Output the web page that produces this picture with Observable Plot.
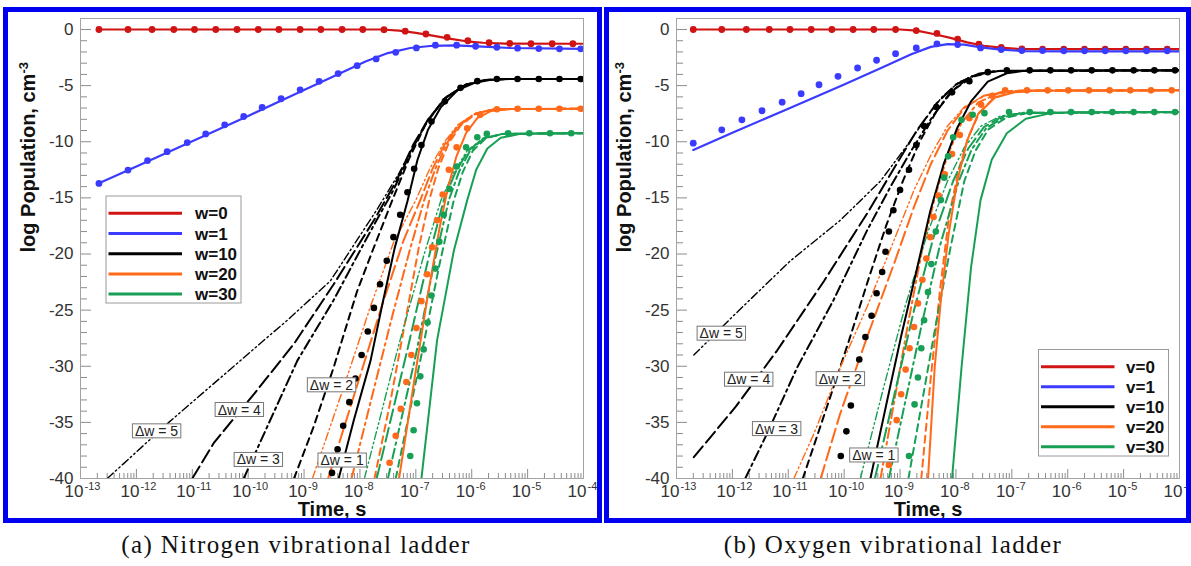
<!DOCTYPE html>
<html><head><meta charset="utf-8">
<script src="https://cdn.jsdelivr.net/npm/d3@7"></script>
<script src="https://cdn.jsdelivr.net/npm/@observablehq/plot@0.6"></script>
<style>
body{margin:0;background:#fff;width:1191px;height:566px;overflow:hidden;position:relative;font-family:"Liberation Sans",Arial,sans-serif}
.panel{position:absolute;border:5px solid #0000f0;background:#fff;overflow:hidden;box-sizing:border-box}
.panel svg{display:block}
.cap{position:absolute;top:532px;font-family:"Liberation Serif","Times New Roman",serif;font-size:25px;line-height:25px;letter-spacing:1.4px;color:#111;white-space:nowrap;transform:translateX(-50%)}
</style></head><body>
<div id="p1" class="panel" style="left:3px;top:7px;width:599px;height:516px"></div>
<div id="p2" class="panel" style="left:604px;top:7px;width:587px;height:516px"></div>
<div class="cap" style="left:296px">(a) Nitrogen vibrational ladder</div>
<div class="cap" style="left:893px">(b) Oxygen vibrational ladder</div>
<script>
// ---------- axis / label data ----------
const decades = [-13,-12,-11,-10,-9,-8,-7,-6,-5,-4];
const decadeExp = ["-13","-12","-11","-10","-9","-8","-7","-6","-5","-4"];
const yMajor = [0,-5,-10,-15,-20,-25,-30,-35,-40];
const yMajorLabels = ["0","-5","-10","-15","-20","-25","-30","-35","-40"];
const levelColors = ["#d01414","#3b3bff","#000000","#ff6a1a","#17a055"];
const n2LegendLabels = ["w=0","w=1","w=10","w=20","w=30"];
const o2LegendLabels = ["v=0","v=1","v=10","v=20","v=30"];
const dwLabels = ["\u0394w = 5","\u0394w = 4","\u0394w = 3","\u0394w = 2","\u0394w = 1"];
const yTitle = "log Population, cm";
const n2DwX = [-11.64,-10.16,-9.82,-8.51,-8.32];
const n2DwY = [-35.8,-33.9,-38.35,-31.7,-38.4];
const o2DwX = [-12.20,-11.71,-11.21,-10.07,-9.47];
const o2DwY = [-27.1,-31.2,-35.6,-31.15,-37.95];

// ---------- Nitrogen (log10 time [s], log population) ----------
const n2_w0_line = [[-12.67,0],[-7.6,0],[-7.3,-0.1],[-7.0,-0.3],[-6.7,-0.55],[-6.4,-0.82],[-6.1,-1.05],[-5.8,-1.18],[-5.4,-1.25],[-4,-1.27]];
const n2_w0_dots = [[-12.67,0],[-12.15,0],[-11.72,0],[-11.33,0],[-10.96,0],[-10.58,0],[-10.20,0],[-9.82,0],[-9.45,0],[-9.07,0],[-8.70,0],[-8.32,0],[-7.95,0],[-7.57,-0.02],[-7.19,-0.15],[-6.82,-0.4],[-6.44,-0.7],[-6.07,-1.0],[-5.69,-1.18],[-5.32,-1.24],[-4.94,-1.26],[-4.56,-1.27],[-4.19,-1.27]];
const n2_w1_line = [[-12.67,-13.7],[-12,-12.2],[-11,-9.95],[-10,-7.7],[-9,-5.4],[-8.4,-4.0],[-7.9,-2.85],[-7.5,-2.1],[-7.1,-1.65],[-6.7,-1.45],[-6.3,-1.42],[-5.9,-1.5],[-5.3,-1.65],[-4,-1.72]];
const n2_w1_dots = [[-12.67,-13.71],[-12.15,-12.52],[-11.80,-11.68],[-11.45,-10.88],[-11.09,-10.07],[-10.76,-9.30],[-10.42,-8.49],[-10.08,-7.75],[-9.75,-6.94],[-9.41,-6.17],[-9.07,-5.37],[-8.73,-4.62],[-8.39,-3.93],[-8.05,-3.22],[-7.71,-2.62],[-7.36,-2.03],[-6.99,-1.64],[-6.65,-1.40],[-6.27,-1.40],[-5.93,-1.49],[-5.55,-1.58],[-5.18,-1.66],[-4.80,-1.70],[-4.43,-1.72],[-4.05,-1.72]];

const n2_w10_dw5 = [[-12.52,-40],[-11.42,-35],[-10.14,-29.5],[-9.3,-25.9],[-8.53,-22.4],[-7.69,-16],[-7.3,-12.8],[-7.0,-10],[-6.75,-7.8],[-6.45,-6],[-6.1,-4.9],[-5.75,-4.5],[-5.4,-4.41],[-4,-4.41]];
const n2_w10_dw4 = [[-11.0,-40],[-10.61,-36.8],[-9.9,-32.5],[-9.18,-28],[-8.47,-22.7],[-7.75,-17],[-7.35,-13.5],[-7.05,-10.3],[-6.78,-8],[-6.45,-6],[-6.1,-4.9],[-5.75,-4.5],[-5.4,-4.41],[-4,-4.41]];
const n2_w10_dw3 = [[-10.08,-40],[-9.66,-35.4],[-9.12,-29.5],[-8.47,-24.1],[-7.87,-18.5],[-7.4,-14.3],[-7.08,-10.8],[-6.8,-8.2],[-6.47,-6.1],[-6.1,-4.9],[-5.75,-4.5],[-5.4,-4.41],[-4,-4.41]];
const n2_w10_dw2 = [[-9.18,-40],[-8.83,-35.4],[-8.47,-30.1],[-8.05,-23.3],[-7.75,-19.4],[-7.42,-15.2],[-7.12,-11.5],[-6.83,-8.5],[-6.5,-6.2],[-6.12,-4.95],[-5.75,-4.5],[-5.4,-4.41],[-4,-4.41]];
const n2_w10_dw1 = [[-8.38,-40],[-8.11,-34.8],[-7.81,-29.5],[-7.6,-24.5],[-7.38,-19.5],[-7.15,-15.3],[-6.97,-11.6],[-6.78,-8.9],[-6.55,-6.9],[-6.25,-5.4],[-5.95,-4.75],[-5.65,-4.48],[-5.3,-4.41],[-4,-4.41]];
const n2_w10_dots = [[-8.5,-39.5],[-8.4,-37.4],[-8.3,-35.3],[-8.19,-33.2],[-8.08,-31.1],[-7.97,-29.0],[-7.86,-26.9],[-7.75,-24.8],[-7.64,-22.7],[-7.52,-20.6],[-7.4,-18.5],[-7.28,-16.5],[-7.15,-14.5],[-7.03,-12.4],[-6.9,-10.3],[-6.72,-8.2],[-6.48,-6.4],[-6.2,-5.2],[-5.9,-4.6],[-5.55,-4.41],[-5.18,-4.41],[-4.8,-4.41],[-4.43,-4.41],[-4.05,-4.41]];

const n2_w20_dw5 = [[-8.85,-40],[-8.3,-32],[-7.8,-24.5],[-7.4,-19],[-7.0,-15.2],[-6.75,-12.4],[-6.5,-10.1],[-6.25,-8.5],[-5.95,-7.5],[-5.6,-7.1],[-4,-7.06]];
const n2_w20_dw4 = [[-8.57,-40],[-8.1,-32.5],[-7.6,-24.5],[-7.22,-18.8],[-6.92,-15.2],[-6.7,-12.4],[-6.47,-10.1],[-6.23,-8.5],[-5.94,-7.5],[-5.6,-7.1],[-4,-7.06]];
const n2_w20_dw3 = [[-8.15,-40],[-7.8,-33],[-7.42,-25.5],[-7.1,-19.5],[-6.85,-15.2],[-6.65,-12.4],[-6.44,-10.1],[-6.21,-8.5],[-5.93,-7.5],[-5.6,-7.1],[-4,-7.06]];
const n2_w20_dw2 = [[-7.74,-40],[-7.45,-33],[-7.17,-25.5],[-6.95,-19.5],[-6.76,-15.2],[-6.6,-12.4],[-6.41,-10.1],[-6.19,-8.5],[-5.92,-7.5],[-5.6,-7.1],[-4,-7.06]];
const n2_w20_dw1 = [[-7.3,-40],[-7.02,-31],[-6.78,-23.5],[-6.58,-17.8],[-6.43,-14.2],[-6.28,-11.4],[-6.1,-9.2],[-5.9,-7.9],[-5.65,-7.25],[-5.3,-7.08],[-4,-7.06]];
const n2_w20_dots = [[-7.47,-38.6],[-7.36,-36.2],[-7.27,-33.8],[-7.17,-31.4],[-7.08,-29.0],[-6.99,-26.6],[-6.9,-24.2],[-6.8,-21.8],[-6.71,-19.4],[-6.62,-17.0],[-6.52,-14.7],[-6.41,-12.5],[-6.27,-10.5],[-6.08,-8.8],[-5.85,-7.6],[-5.55,-7.1],[-5.18,-7.06],[-4.8,-7.06],[-4.43,-7.06],[-4.05,-7.06]];

const n2_w30_dw5 = [[-7.92,-40],[-7.3,-28],[-6.85,-20],[-6.55,-15.2],[-6.32,-12.7],[-6.08,-10.8],[-5.8,-9.7],[-5.45,-9.3],[-4,-9.24]];
const n2_w30_dw4 = [[-7.7,-40],[-7.15,-28.5],[-6.78,-20.5],[-6.5,-15.2],[-6.29,-12.7],[-6.06,-10.8],[-5.79,-9.7],[-5.45,-9.3],[-4,-9.24]];
const n2_w30_dw3 = [[-7.5,-40],[-7.0,-29],[-6.68,-21],[-6.41,-15.2],[-6.23,-12.7],[-6.03,-10.8],[-5.78,-9.7],[-5.45,-9.3],[-4,-9.24]];
const n2_w30_dw2 = [[-7.36,-40],[-6.9,-29],[-6.58,-21],[-6.32,-15.2],[-6.16,-12.7],[-5.98,-10.8],[-5.75,-9.7],[-5.45,-9.3],[-4,-9.24]];
const n2_w30_dw1 = [[-6.9,-40],[-6.62,-27.7],[-6.32,-19.7],[-6.08,-15.2],[-5.92,-12.5],[-5.72,-10.6],[-5.48,-9.65],[-5.15,-9.32],[-4.7,-9.25],[-4,-9.24]];
const n2_w30_dots = [[-7.1,-38],[-7.04,-35.7],[-6.98,-33.3],[-6.92,-30.9],[-6.86,-28.5],[-6.79,-26.1],[-6.72,-23.7],[-6.65,-21.3],[-6.58,-18.9],[-6.5,-16.5],[-6.4,-14.2],[-6.27,-12.2],[-6.1,-10.5],[-5.9,-9.6],[-5.73,-9.3],[-5.35,-9.24],[-4.97,-9.24],[-4.6,-9.24],[-4.22,-9.24]];

// ---------- Oxygen ----------
const o2_v0_line = [[-12.7,0],[-9.0,0],[-8.7,-0.1],[-8.4,-0.4],[-8.1,-0.75],[-7.8,-1.15],[-7.5,-1.45],[-7.2,-1.62],[-6.9,-1.72],[-6.5,-1.75],[-4,-1.75]];
const o2_v0_dots = [[-12.70,0],[-12.19,0],[-11.75,0],[-11.34,0],[-10.97,0],[-10.59,0],[-10.22,0],[-9.84,0],[-9.47,0],[-9.08,0],[-8.71,-0.1],[-8.34,-0.35],[-7.97,-0.85],[-7.59,-1.3],[-7.19,-1.6],[-6.82,-1.72],[-6.45,-1.75],[-6.07,-1.75],[-5.70,-1.75],[-5.33,-1.75],[-4.96,-1.75],[-4.59,-1.75],[-4.22,-1.75]];
const o2_v1_line = [[-12.7,-10.73],[-12,-9.2],[-11,-7.05],[-10,-4.9],[-9.3,-3.35],[-8.8,-2.2],[-8.45,-1.55],[-8.15,-1.3],[-7.85,-1.35],[-7.55,-1.6],[-7.2,-1.8],[-6.8,-1.92],[-6,-1.95],[-4,-1.95]];
const o2_v1_dots = [[-12.70,-10.13],[-12.19,-8.94],[-11.83,-8.05],[-11.47,-7.24],[-11.11,-6.47],[-10.77,-5.72],[-10.45,-4.92],[-10.11,-4.17],[-9.76,-3.43],[-9.42,-2.74],[-9.08,-2.15],[-8.71,-1.64],[-8.34,-1.28],[-7.97,-1.34],[-7.56,-1.64],[-7.19,-1.79],[-6.82,-1.88],[-6.45,-1.88],[-6.07,-1.9],[-5.70,-1.9],[-5.33,-1.9],[-4.96,-1.9],[-4.59,-1.9],[-4.22,-1.9]];

const o2_v10_dw5 = [[-12.69,-29],[-11.94,-25.3],[-10.96,-20.6],[-10.07,-17],[-9.35,-13.5],[-8.9,-10.5],[-8.55,-8],[-8.25,-6],[-7.95,-4.7],[-7.6,-3.95],[-7.2,-3.68],[-4,-3.64]];
const o2_v10_dw4 = [[-12.69,-38.1],[-11.94,-33.6],[-11.2,-28.6],[-10.36,-22.4],[-9.59,-16.4],[-9.1,-12.3],[-8.7,-9],[-8.35,-6.6],[-8.0,-4.9],[-7.6,-3.95],[-7.2,-3.68],[-4,-3.64]];
const o2_v10_dw3 = [[-11.77,-40],[-11.38,-36],[-10.84,-30.1],[-10.19,-24.1],[-9.59,-17.9],[-9.17,-14],[-8.8,-10.8],[-8.45,-8],[-8.1,-5.6],[-7.75,-4.2],[-7.3,-3.7],[-4,-3.64]];
const o2_v10_dw2 = [[-10.74,-40],[-10.3,-33.5],[-9.9,-27.5],[-9.55,-22],[-9.25,-17.5],[-8.95,-13.5],[-8.65,-10],[-8.35,-7.3],[-8.05,-5.4],[-7.7,-4.2],[-7.3,-3.7],[-4,-3.64]];
const o2_v10_dw1 = [[-9.53,-40],[-9.25,-33.5],[-8.98,-27.3],[-8.72,-21.8],[-8.46,-16.2],[-8.22,-12.0],[-7.98,-8.8],[-7.73,-6.4],[-7.43,-4.65],[-7.09,-3.9],[-6.75,-3.66],[-4,-3.64]];
const o2_v10_dots = [[-10.06,-38],[-9.96,-35.8],[-9.88,-33.5],[-9.8,-31.4],[-9.73,-29.4],[-9.62,-27.4],[-9.51,-25.5],[-9.42,-23.5],[-9.32,-21.6],[-9.26,-19.8],[-9.2,-18],[-9.12,-16.1],[-9.0,-14.3],[-8.84,-12.5],[-8.71,-10.3],[-8.57,-8.6],[-8.35,-6.9],[-8.07,-5.6],[-7.76,-4.6],[-7.43,-3.8],[-7.09,-3.64],[-6.68,-3.64],[-6.31,-3.64],[-5.94,-3.64],[-5.57,-3.64],[-5.2,-3.64],[-4.82,-3.64],[-4.45,-3.64],[-4.08,-3.64]];

const o2_v20_dw5 = [[-10.9,-40],[-10.54,-36],[-10.07,-30.1],[-9.59,-24.7],[-9.11,-18.8],[-8.75,-14.3],[-8.45,-11.2],[-8.15,-8.6],[-7.85,-6.9],[-7.5,-5.9],[-7.1,-5.5],[-6.7,-5.43],[-4,-5.42]];
const o2_v20_dw4 = [[-10.42,-40],[-10.07,-34.2],[-9.59,-27.4],[-9.11,-20.9],[-8.75,-15.8],[-8.45,-12],[-8.15,-9],[-7.85,-7.0],[-7.5,-5.9],[-7.1,-5.5],[-6.7,-5.43],[-4,-5.42]];
const o2_v20_dw3 = [[-9.35,-40],[-9.1,-33],[-8.85,-26],[-8.6,-19.5],[-8.38,-15],[-8.15,-11.2],[-7.9,-8.3],[-7.6,-6.5],[-7.25,-5.7],[-6.85,-5.45],[-4,-5.42]];
const o2_v20_dw2 = [[-8.62,-40],[-8.45,-31],[-8.28,-23],[-8.12,-16.5],[-7.95,-12.5],[-7.78,-9.6],[-7.58,-7.4],[-7.32,-6.1],[-7.0,-5.6],[-6.6,-5.44],[-4,-5.42]];
const o2_v20_dw1 = [[-8.5,-40],[-8.38,-30.1],[-8.27,-24.1],[-8.13,-18.2],[-7.98,-13.6],[-7.8,-9.9],[-7.6,-7.5],[-7.3,-6.05],[-6.95,-5.6],[-6.6,-5.45],[-4,-5.42]];
const o2_v20_dots = [[-9.2,-38.8],[-9.06,-34.8],[-8.98,-32.5],[-8.9,-30.3],[-8.83,-28.4],[-8.75,-26.5],[-8.68,-24.4],[-8.6,-22.3],[-8.53,-20.4],[-8.46,-18.5],[-8.4,-16.7],[-8.31,-14.8],[-8.2,-12.9],[-8.07,-11.1],[-7.93,-9.4],[-7.76,-7.9],[-7.55,-6.7],[-7.35,-5.9],[-7.12,-5.42],[-6.73,-5.42],[-6.36,-5.42],[-5.99,-5.42],[-5.62,-5.42],[-5.25,-5.42],[-4.88,-5.42],[-4.51,-5.42],[-4.14,-5.42]];

const o2_v30_dw5 = [[-9.71,-40],[-9.3,-32],[-8.9,-24.5],[-8.5,-18],[-8.15,-13.5],[-7.85,-10.5],[-7.55,-8.6],[-7.2,-7.7],[-6.8,-7.4],[-4,-7.36]];
const o2_v30_dw4 = [[-9.45,-40],[-9.1,-32.5],[-8.75,-25],[-8.4,-18.5],[-8.05,-13.5],[-7.78,-10.6],[-7.5,-8.7],[-7.17,-7.75],[-6.78,-7.42],[-4,-7.36]];
const o2_v30_dw3 = [[-9.2,-40],[-8.9,-33],[-8.6,-26],[-8.3,-19.5],[-7.95,-13.5],[-7.72,-10.7],[-7.46,-8.8],[-7.14,-7.8],[-6.75,-7.43],[-4,-7.36]];
const o2_v30_dw2 = [[-8.85,-40],[-8.6,-33],[-8.35,-26],[-8.1,-19.5],[-7.85,-13.5],[-7.65,-10.8],[-7.42,-8.9],[-7.1,-7.85],[-6.72,-7.45],[-4,-7.36]];
const o2_v30_dw1 = [[-8.07,-40],[-7.9,-30.1],[-7.73,-21.2],[-7.56,-15.2],[-7.36,-11.6],[-7.09,-9.24],[-6.75,-7.95],[-6.3,-7.45],[-5.9,-7.37],[-4,-7.36]];
const o2_v30_dots = [[-8.84,-38],[-8.74,-33.4],[-8.68,-31],[-8.62,-28.4],[-8.57,-25.9],[-8.5,-23.4],[-8.44,-20.9],[-8.36,-18],[-8.27,-15.2],[-8.21,-13.2],[-8.14,-11.3],[-8.05,-9.6],[-7.9,-8.05],[-7.7,-7.6],[-7.49,-7.45],[-7.05,-7.36],[-6.68,-7.36],[-6.31,-7.36],[-5.94,-7.36],[-5.57,-7.36],[-5.2,-7.36],[-4.82,-7.36],[-4.45,-7.36],[-4.08,-7.36]];

// ---------- styles ----------
const dashArray = {dw5:"8,3,1.6,3,1.6,3", dw4:"14,5", dw3:"10,4,2.5,4", dw2:"7,5", dw1:null};
const dashWidth = {dw5:1.4, dw4:2, dw3:2, dw2:2, dw1:2};
const xMinor = decades.slice(0,-1).flatMap(d => [2,3,4,5,6,7,8,9].map(k => d + Math.log10(k)));
const yMinor = d3.range(-39, 0).filter(v => v % 5 !== 0);

const panels = [
  {el:"p1", width:589, ml:72, mr:14,
   top:[{line:n2_w0_line, dots:n2_w0_dots, color:levelColors[0]},{line:n2_w1_line, dots:n2_w1_dots, color:levelColors[1]}],
   levels:[
     {color:levelColors[2], lines:{dw5:n2_w10_dw5,dw4:n2_w10_dw4,dw3:n2_w10_dw3,dw2:n2_w10_dw2,dw1:n2_w10_dw1}, dots:n2_w10_dots},
     {color:levelColors[3], lines:{dw5:n2_w20_dw5,dw4:n2_w20_dw4,dw3:n2_w20_dw3,dw2:n2_w20_dw2,dw1:n2_w20_dw1}, dots:n2_w20_dots},
     {color:levelColors[4], lines:{dw5:n2_w30_dw5,dw4:n2_w30_dw4,dw3:n2_w30_dw3,dw2:n2_w30_dw2,dw1:n2_w30_dw1}, dots:n2_w30_dots}],
   dwX:n2DwX, dwY:n2DwY, legendLabels:n2LegendLabels,
   legend:{x:98,y:184,w:135,h:107,row0:201.3,step:20.2,lx1:100.5,lx2:174,tx:187}},
  {el:"p2", width:577, ml:67, mr:7,
   top:[{line:o2_v0_line, dots:o2_v0_dots, color:levelColors[0]},{line:o2_v1_line, dots:o2_v1_dots, color:levelColors[1]}],
   levels:[
     {color:levelColors[2], lines:{dw5:o2_v10_dw5,dw4:o2_v10_dw4,dw3:o2_v10_dw3,dw2:o2_v10_dw2,dw1:o2_v10_dw1}, dots:o2_v10_dots},
     {color:levelColors[3], lines:{dw5:o2_v20_dw5,dw4:o2_v20_dw4,dw3:o2_v20_dw3,dw2:o2_v20_dw2,dw1:o2_v20_dw1}, dots:o2_v20_dots},
     {color:levelColors[4], lines:{dw5:o2_v30_dw5,dw4:o2_v30_dw4,dw3:o2_v30_dw3,dw2:o2_v30_dw2,dw1:o2_v30_dw1}, dots:o2_v30_dots}],
   dwX:o2DwX, dwY:o2DwY, legendLabels:o2LegendLabels,
   legend:{x:429.5,y:337.5,w:130,h:106.5,row0:354.7,step:20,lx1:432,lx2:505.5,tx:517}}
];

function drawPanel(P) {
  const H = 506, mt = 6, mb = 40;
  const plotW = P.width - P.ml - P.mr, plotH = H - mt - mb;
  const X = d => d[0], Y = d => d[1];
  const tc = "#8c8c8c";
  const marks = [
    Plot.tickX(xMinor, {x: d => d, insetTop: plotH - 5, stroke: tc}),
    Plot.tickX(decades, {x: d => d, insetTop: plotH - 9, stroke: tc}),
    Plot.tickY(yMinor, {y: d => d, insetRight: plotW - 7, stroke: tc}),
    Plot.tickY(yMajor, {y: d => d, insetRight: plotW - 11, stroke: tc})
  ];
  for (const lev of P.levels)
    for (const k of ["dw5","dw4","dw3","dw2"])
      marks.push(Plot.line(lev.lines[k], {x:X, y:Y, stroke:lev.color, strokeWidth:dashWidth[k], strokeDasharray:dashArray[k], clip:true}));
  for (const lev of P.levels)
    marks.push(Plot.line(lev.lines.dw1, {x:X, y:Y, stroke:lev.color, strokeWidth:2, clip:true}));
  for (const lev of P.levels)
    marks.push(Plot.dot(lev.dots, {x:X, y:Y, r:3.3, fill:lev.color, clip:true}));
  for (const s of P.top) {
    marks.push(Plot.line(s.line, {x:X, y:Y, stroke:s.color, strokeWidth:2.2, clip:true}));
    marks.push(Plot.dot(s.dots, {x:X, y:Y, r:3.4, fill:s.color, clip:true}));
  }
  marks.push(Plot.frame({stroke:"#a3a3a3"}));
  // tick labels
  marks.push(Plot.text(yMajor, {x: () => -13, y: d => d, text: (d,i) => yMajorLabels[i], textAnchor:"end", dx:-7, fontSize:17, fill:"#333"}));
  marks.push(Plot.text(decades, {x: d => d, y: () => -40, text: () => "10", textAnchor:"end", dx:3, dy:18, lineAnchor:"bottom", fontSize:17, fill:"#333"}));
  marks.push(Plot.text(decades, {x: d => d, y: () => -40, text: (d,i) => decadeExp[i], textAnchor:"start", dx:4, dy:11, lineAnchor:"bottom", fontSize:11, fill:"#333"}));
  // axis titles
  marks.push(Plot.text(["Time, s"], {frameAnchor:"bottom", dy:37, lineAnchor:"bottom", fontSize:20, fontWeight:"bold", fill:"#111"}));
  marks.push(Plot.text([yTitle], {frameAnchor:"left", rotate:-90, dx:-52, dy:4, fontSize:20, fontWeight:"bold", fill:"#111"}));
  // Δw labels
  marks.push(Plot.text(d3.range(dwLabels.length), {x: i => P.dwX[i], y: i => P.dwY[i], text: i => dwLabels[i], fontSize:14, fill:"#222"}));

  const svg = Plot.plot({
    width:P.width, height:H, marginTop:mt, marginBottom:mb, marginLeft:P.ml, marginRight:P.mr,
    x:{type:"linear", domain:[-13,-4], axis:null},
    y:{type:"linear", domain:[-40,0.98], axis:null},
    style:{fontFamily:"'Liberation Sans', Arial, sans-serif", background:"white", overflow:"hidden"},
    marks
  });
  document.getElementById(P.el).appendChild(svg);
  const s = d3.select(svg);
  const allText = Array.from(svg.querySelectorAll("text"));
  // boxes behind Δw labels
  allText.filter(t => dwLabels.includes(t.textContent)).forEach(t => {
    const b = t.getBBox();
    const r = document.createElementNS("http://www.w3.org/2000/svg", "rect");
    r.setAttribute("x", b.x - 2.5); r.setAttribute("y", b.y + 1);
    r.setAttribute("width", b.width + 5); r.setAttribute("height", b.height - 2);
    r.setAttribute("fill", "white"); r.setAttribute("stroke", "#777"); r.setAttribute("stroke-width", "1");
    const tr = t.getAttribute("transform"); if (tr) r.setAttribute("transform", tr);
    t.parentNode.insertBefore(r, t);
  });
  // superscript on y title
  allText.filter(t => t.textContent === yTitle).forEach(t => {
    d3.select(t).append("tspan").attr("dy", "-0.55em").attr("font-size", 13).text("-3");
  });
  // legend
  const L = P.legend;
  const g = s.append("g").attr("text-anchor", "start");
  g.append("rect").attr("x", L.x).attr("y", L.y).attr("width", L.w).attr("height", L.h)
    .attr("fill", "white").attr("stroke", "#9a9a9a");
  P.legendLabels.forEach((lab, i) => {
    const yy = L.row0 + i * L.step;
    g.append("line").attr("x1", L.lx1).attr("x2", L.lx2).attr("y1", yy).attr("y2", yy)
      .attr("stroke", levelColors[i]).attr("stroke-width", 3);
    g.append("text").attr("x", L.tx).attr("y", yy).attr("dy", "0.36em").attr("text-anchor", "start")
      .attr("font-size", 17).attr("font-weight", "bold").attr("fill", "#111").text(lab);
  });
}
panels.forEach(drawPanel);
</script>
</body></html>
